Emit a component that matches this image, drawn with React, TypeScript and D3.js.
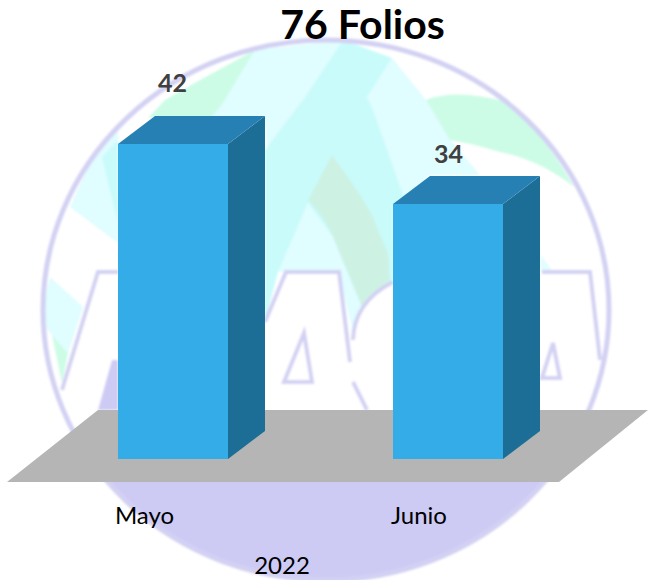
import React from "react";
import * as d3 from "d3";

const months = ["Mayo", "Junio"];
const folios = [42, 34];
const total = "76 Folios";
const year = "2022";

const W = 648, H = 580;
const FONT = "Lato, 'Open Sans', sans-serif";
const LAV = "#d3d1f3";
const C_LIGHT = "#e0fdff", C_STRONG = "#c9fbfb", G_LIGHT = "#ccfce6", G_MID = "#cdf2e4";

const x = d3.scaleBand<string>().domain(months).range([118, 503]).paddingInner(0.6).paddingOuter(0);
const y = d3.scaleLinear().domain([0, 42]).range([459, 144]);
const DX = 37, DY = -28;

const valueBaselines = [92, 163];
const valueCentres = [172.5, 448.5];
const monthCentres = [144.5, 419];

const poly = (p: number[][]) => d3.line()(p as [number, number][]) + "Z";

const lightShapes = [
  [[255,50],[343,40],[303,100],[267,150],[265,120],[205,120],[223,103]],
  [[392,58],[426,100],[452,142],[480,175],[430,175],[405,200],[373,110],[367,97]],
  [[308,203],[278,272],[339,272],[353,333],[362,307],[333,237]],
  [[70,207],[118,243],[118,130],[148,115],[100,140]],
  [[50,277],[83,307],[68,353],[52,335],[40,320]],
  [[541,255],[553,272],[541,272]],
];
const strongShapes = [
  [[343,40],[392,58],[367,97],[373,110],[405,200],[393,205],[393,283],[390,283],[362,307],[333,237],[308,203],[278,272],[265,320],[265,150],[303,100]],
  [[102,157],[118,223],[118,140]],
];
const greenShapes = [
  [[165,100],[200,80],[255,50],[223,103],[211,118],[148,118]],
  [[52,335],[68,353],[62,383]],
  [[284,382],[304,333],[312,382]],
  [[542,378],[553,343],[560,378]],
];

export default function App() {
  const bw = x.bandwidth();
  return (
    <svg width={W} height={H} viewBox={`0 0 ${W} ${H}`} style={{ position: "absolute", left: 0, top: 0, background: "#fff" }}>
      <defs>
        <clipPath id="disc"><ellipse cx={326} cy={310} rx={283} ry={270} /></clipPath>
        <filter id="soft" x="-5%" y="-5%" width="110%" height="110%"><feGaussianBlur stdDeviation={0.8} /></filter>
      </defs>
      <g filter="url(#soft)">
        <g clipPath="url(#disc)">
          {lightShapes.map((p, i) => <path key={i} d={poly(p)} fill={C_LIGHT} />)}
          {strongShapes.map((p, i) => <path key={i} d={poly(p)} fill={C_STRONG} />)}
          {greenShapes.map((p, i) => <path key={i} d={poly(p)} fill={G_LIGHT} />)}
          <path d="M426,100 Q455,88 507,102 Q545,135 574,187 Q540,160 500,152 Q470,143 450,140 Z" fill={G_LIGHT} />
          <path d="M332,155 L308,200 Q325,218 333,237 L362,307 Q375,292 390,283 L388,253 Q380,235 373,217 Q362,195 332,155 Z" fill={G_MID} />
          <path d="M98,272 L118,272 L118,410 L98,410 L80,432 L62,395 L62,390 Z" fill="#fff" />
          <path d="M286,272 L339,272 L350,362 L367,410 L265,410 L265,320 Z" fill="#fff" />
          <path d="M353,333 Q358,300 393,282 L393,410 L353,410 Z" fill="#fff" />
          <path d="M542,272 L590,272 L600,360 L587,410 L542,410 Z" fill="#fff" />
          <path d={poly([[112,360],[118,360],[118,410],[98,410]])} fill="#cdcbf4" />
          <rect x={0} y={470} width={W} height={120} fill="#cdcbf4" />
          <g fill="none" stroke={LAV} strokeWidth={4}>
            <path d="M118,272 L98,272 L62,390" />
            <path d="M265,322 L286,272 L339,272 L350,362 M353,382 L367,410" />
            <path d="M353,340 Q354,302 393,282" />
            <path d="M542,272 L590,272 L600,360" />
            <path d="M304,333 L284,382 L312,382 Z" />
            <path d="M553,343 L542,378 L560,378 Z" />
          </g>
        </g>
        <ellipse cx={326} cy={310} rx={283} ry={270} fill="none" stroke={LAV} strokeWidth={5} />
      </g>

      <path d={poly([[98, 410], [648, 410], [559, 482], [7, 482]])} fill="#b5b5b5" />

      {months.map((m, i) => {
        const x0 = x(m)!, x1 = x0 + bw, yT = y(folios[i]), yB = y(0);
        return (
          <g key={m}>
            <path d={poly([[x1, yT], [x1 + DX, yT + DY], [x1 + DX, yB + DY], [x1, yB]])} fill="#1c6e96" />
            <path d={poly([[x0, yT], [x0 + DX, yT + DY], [x1 + DX, yT + DY], [x1, yT]])} fill="#2680b3" />
            <rect x={x0} y={yT} width={bw} height={yB - yT} fill="#33ace8" />
            <text x={valueCentres[i]} y={valueBaselines[i]} textAnchor="middle" fontFamily={FONT} fontWeight={700} fontSize={25} fill="#404040">{folios[i]}</text>
            <text x={monthCentres[i]} y={524} textAnchor="middle" fontFamily={FONT} fontSize={24} fill="#000">{m}</text>
          </g>
        );
      })}

      <text x={362.5} y={39} textAnchor="middle" fontFamily={FONT} fontWeight={700} fontSize={41} fill="#000">{total}</text>
      <text x={282} y={574} textAnchor="middle" fontFamily={FONT} fontSize={24} fill="#000">{year}</text>
    </svg>
  );
}
